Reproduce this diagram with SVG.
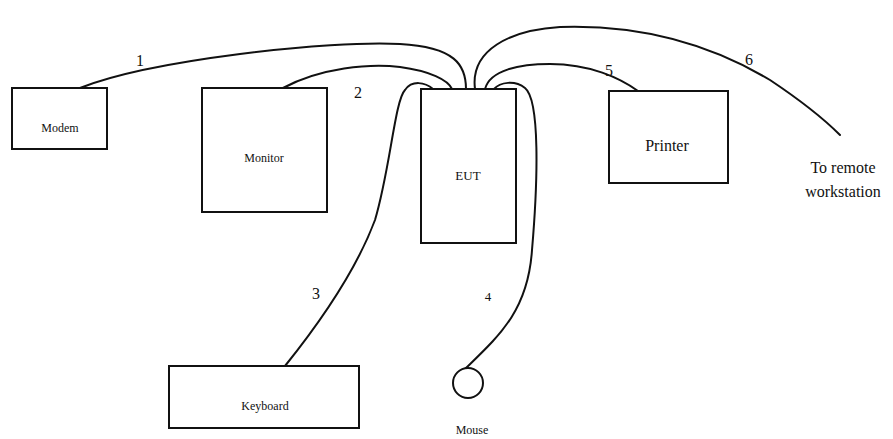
<svg xmlns="http://www.w3.org/2000/svg" width="893" height="439" viewBox="0 0 893 439">
<style>
.box{fill:#fff;stroke:#111;stroke-width:2}
.c{fill:none;stroke:#111;stroke-width:2;stroke-linecap:round}
.t{font-family:'Liberation Serif','Times New Roman','DejaVu Serif',serif;fill:#111}
.s{font-size:12px}
.m{font-size:13px}
.l{font-size:16px}
</style>
<rect width="893" height="439" fill="#fff"/>
<g id="connectors">
<path class="c" d="M80,88 C150,60 330,40 400,44 C455,47 466,65 466,89"/>
<path class="c" d="M283,88 C320,68 370,63 400,67 C430,71 448,80 452,89"/>
<path class="c" d="M285,366 C330,310 360,260 375,220 C390,170 395,100 405,90 C412,80 425,82 433,89"/>
<path class="c" d="M466,368 C500,335 528,310 532,250 C538,180 540,100 525,88 C515,80 500,82 494,89"/>
<path class="c" d="M485,89 C490,70 520,64 550,64 C590,64 620,78 638,91"/>
<path class="c" d="M475,89 C470,50 510,30 560,27 C650,24 720,50 770,80 C800,100 825,120 840,135"/>
<text class="t l" x="140" y="66" text-anchor="middle">1</text>
<text class="t l" x="358" y="98" text-anchor="middle">2</text>
<text class="t l" x="316" y="299" text-anchor="middle">3</text>
<text class="t m" x="488" y="301" text-anchor="middle">4</text>
<text class="t l" x="609" y="76" text-anchor="middle">5</text>
<text class="t l" x="749" y="65" text-anchor="middle">6</text>
</g>
<g id="modem"><rect class="box" x="12" y="88" width="95" height="61"/><text class="t s" x="60" y="132" text-anchor="middle">Modem</text></g>
<g id="monitor"><rect class="box" x="202" y="88" width="125" height="124"/><text class="t s" x="264" y="162" text-anchor="middle">Monitor</text></g>
<g id="eut"><rect class="box" x="421" y="89" width="95" height="154"/><text class="t m" x="468" y="180" text-anchor="middle">EUT</text></g>
<g id="printer"><rect class="box" x="609" y="91" width="119" height="92"/><text class="t l" x="667" y="151" text-anchor="middle">Printer</text></g>
<g id="remote"><text class="t l" x="843" y="173" text-anchor="middle">To remote</text><text class="t l" x="843" y="197" text-anchor="middle">workstation</text></g>
<g id="keyboard"><rect class="box" x="169" y="366" width="190" height="62"/><text class="t s" x="265" y="410" text-anchor="middle">Keyboard</text></g>
<g id="mouse"><circle class="box" cx="468" cy="383" r="15"/><text class="t s" x="472" y="434" text-anchor="middle">Mouse</text></g>
</svg>
